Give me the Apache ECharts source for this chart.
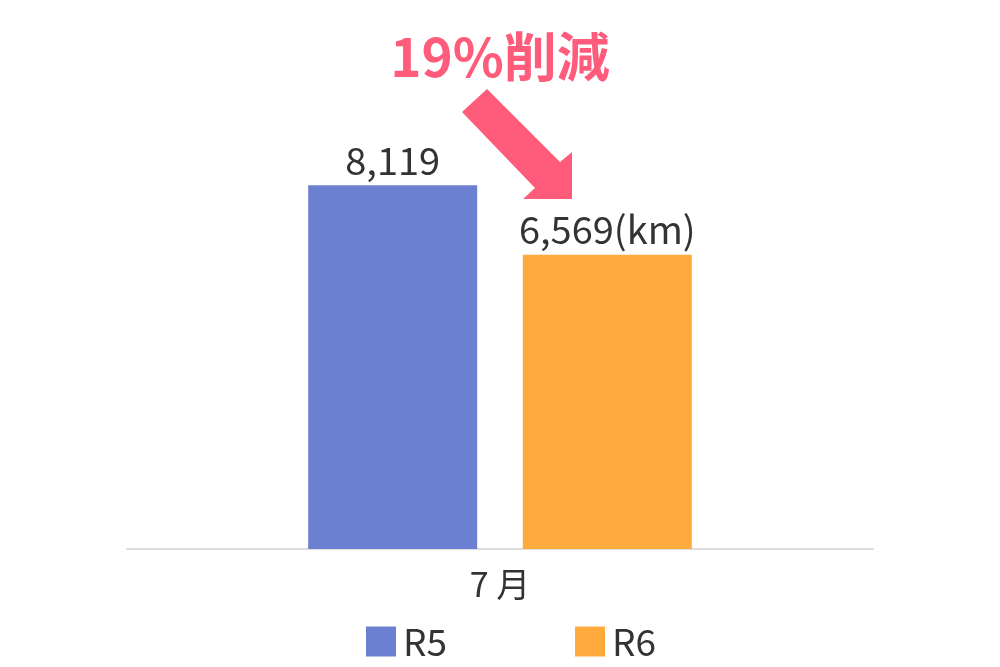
<!DOCTYPE html>
<html><head><meta charset="utf-8">
<script src="https://cdn.jsdelivr.net/npm/echarts@6/dist/echarts.min.js"></script>
<style>html,body{margin:0;padding:0;background:#fff}#c{width:1000px;height:667px}</style>
</head><body><div id="c"></div>
<script>
const categories = ['7 月'];
const seriesNames = ['R5', 'R6'];
const r5Values = [8119];
const r6Values = [6569];
const labelSuffix = ['', '(km)'];
const headline = '19%削減';

const FONT = '"Noto Sans CJK JP", "Noto Sans", sans-serif';
const chart = echarts.init(document.getElementById('c'));
const fmt = (v) => v.toLocaleString('en-US');

chart.setOption({
  backgroundColor: '#fff',
  animation: false,
  textStyle: { fontFamily: FONT },
  title: {
    text: headline, left: 'center', top: 25,
    textStyle: { color: '#ff5c7c', fontSize: 53, fontWeight: 'bold', fontFamily: FONT }
  },
  grid: { left: 127, right: 127, top: 101, bottom: 118 },
  legend: {
    data: seriesNames, bottom: 2, left: 361, itemWidth: 30, itemHeight: 30, itemGap: 128,
    icon: 'rect',
    textStyle: { fontSize: 37, color: '#333', fontFamily: FONT, padding: [0, 0, 0, 2] }
  },
  xAxis: {
    type: 'category', data: categories,
    axisLine: { lineStyle: { color: '#dddddd', width: 2 } },
    axisTick: { show: false },
    axisLabel: { fontSize: 34, color: '#333', margin: 18, fontFamily: FONT }
  },
  yAxis: { type: 'value', min: 0, max: 10000, show: false, splitLine: { show: false } },
  series: [
    {
      name: seriesNames[0], type: 'bar', data: r5Values, barWidth: 169, barGap: '27%',
      itemStyle: { color: '#6b80d1' },
      label: { show: true, position: 'top', distance: 6, fontSize: 38, color: '#333', fontFamily: FONT,
        formatter: p => fmt(p.value) + labelSuffix[0] }
    },
    {
      name: seriesNames[1], type: 'bar', data: r6Values, barWidth: 169,
      itemStyle: { color: '#ffaa3c' },
      label: { show: true, position: 'top', distance: 6, fontSize: 38, color: '#333', fontFamily: FONT,
        formatter: p => fmt(p.value) + labelSuffix[1] }
    }
  ],
  graphic: [{
    type: 'polygon',
    shape: { points: [[487,89],[560,162],[572,152],[572,199],[523,199],[535,188],[462,112]] },
    style: { fill: '#ff5c7c' }, z: 100
  }]
});
</script>
</body></html>
